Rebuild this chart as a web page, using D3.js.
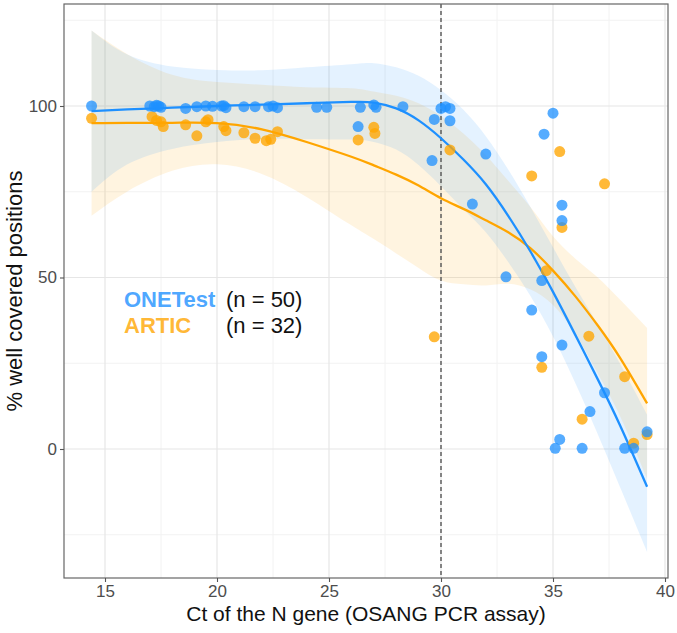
<!DOCTYPE html>
<html>
<head>
<meta charset="utf-8">
<script src="https://cdn.jsdelivr.net/npm/d3@7"></script>
<style>
  html, body { margin: 0; padding: 0; background: #fff; }
  svg { display: block; font-family: "Liberation Sans", Arial, Helvetica, sans-serif; }
</style>
</head>
<body>
<svg id="chart" width="677" height="633"></svg>
<script>
// ---------------- data ----------------
const xTicks = [15, 20, 25, 30, 35, 40];
const xMinor = [17.5, 22.5, 27.5, 32.5, 37.5];
const yTicks = [0, 50, 100];
const yMinor = [-25, 25, 75, 125];
const cutoffCt = 30;

const oneTestCt  = [14.4, 17.0, 17.2, 17.3, 17.4, 17.5, 18.6, 19.1, 19.5, 19.8, 20.2, 20.3, 20.4, 21.2, 21.7, 22.3, 22.5, 22.7, 24.45, 24.9, 26.4, 27.0, 27.1, 28.3, 30.0, 30.2, 30.4, 29.7, 30.4, 26.3, 29.6, 32.0, 35.0, 34.6, 31.4, 35.4, 35.4, 32.9, 34.5, 34.05, 35.4, 34.5, 37.3, 36.65, 39.2, 35.3, 35.1, 36.3, 38.2, 38.6];
const oneTestPct = [100, 100, 99.8, 100.2, 100, 99.6, 99.3, 99.8, 100, 99.9, 100, 100.1, 99.5, 99.8, 99.8, 99.8, 100, 99.5, 99.6, 99.6, 99.6, 100.3, 99.6, 99.8, 99.3, 99.8, 99.3, 96.1, 95.7, 94.0, 84.1, 86.0, 97.9, 91.8, 71.4, 71.1, 66.6, 50.2, 49.1, 40.5, 30.3, 26.9, 16.4, 10.9, 5.0, 2.8, 0.2, 0.2, 0.2, 0.2];

const articCt  = [14.4, 17.1, 17.3, 17.5, 17.6, 18.6, 19.1, 19.5, 19.6, 20.3, 20.4, 21.2, 21.7, 22.2, 22.4, 22.7, 26.3, 27.0, 27.05, 30.4, 29.7, 34.05, 35.3, 37.3, 35.4, 34.7, 34.5, 36.6, 38.2, 36.3, 39.2, 38.6];
const articPct = [96.4, 96.9, 95.8, 95.4, 94.0, 94.5, 91.3, 95.4, 96.0, 94.0, 92.8, 92.2, 90.6, 89.9, 90.3, 92.5, 90.1, 93.8, 92.0, 87.2, 32.7, 79.6, 86.7, 77.3, 64.6, 52.0, 23.8, 32.9, 21.1, 8.7, 4.2, 1.7];

// smoothed fits
const smoothCt   = [14.4, 16, 18, 20, 22, 24, 26, 27, 28, 29, 30, 31, 32, 33, 34, 35, 36, 37, 38, 39.2];
const oneTestFit = [98.5, 99, 99.5, 100, 100.4, 100.8, 101.2, 101.0, 99.3, 95.8, 90.6, 84.4, 77.2, 68.0, 57.5, 45.8, 33.2, 20.3, 6.8, -11];
const oneTestLo  = [75.0, 83, 87.5, 89.5, 90.4, 90.3, 90.2, 89.5, 87.3, 82.8, 76.6, 69.9, 63.2, 54.5, 44.5, 32.8, 19.2, 4.3, -11.2, -30];
const oneTestHi  = [122.0, 115, 111.5, 110.5, 110.4, 111.3, 112.2, 112.5, 111.3, 108.8, 104.6, 98.9, 91.2, 81.5, 70.5, 58.8, 47.2, 36.3, 24.8, 10];
const articFit   = [95.0, 95.1, 95.1, 95.0, 93.2, 89.5, 85.2, 82.7, 80, 76.8, 73.1, 70, 66.7, 63.2, 58.5, 52, 44.5, 36, 26.5, 13.3];
const articLo    = [68, 75.1, 81.1, 83, 80.2, 73.5, 65.2, 61.2, 57, 52.8, 49.1, 48, 47.7, 48.2, 46.5, 42, 33.5, 22, 9.5, -8.7];
const articHi    = [122, 115.1, 109.1, 107, 106.2, 105.5, 105.2, 104.2, 103, 100.8, 97.1, 92, 85.7, 78.2, 70.5, 62, 55.5, 50, 43.5, 35.3];

const legendNames = ["ONETest", "ARTIC"];
const legendCounts = ["(n = 50)", "(n = 32)"];

// ---------------- drawing ----------------
const BLUE = "#1E90FF", ORANGE = "#FFA500";
const svg = d3.select("#chart");
const P = { left: 64, right: 668, top: 4, bottom: 578 };

const x = d3.scaleLinear().domain([15, 40]).range([105, 665]);
const y = d3.scaleLinear().domain([0, 100]).range([449, 106]);

svg.append("defs").append("clipPath").attr("id", "clip")
  .append("rect").attr("x", P.left).attr("y", P.top)
  .attr("width", P.right - P.left).attr("height", P.bottom - P.top);

const grid = svg.append("g");
grid.selectAll(".xm").data(xMinor).join("line")
  .attr("x1", d => x(d)).attr("x2", d => x(d)).attr("y1", P.top).attr("y2", P.bottom)
  .attr("stroke", "#f2f2f2").attr("stroke-width", 1);
grid.selectAll(".ym").data(yMinor).join("line")
  .attr("y1", d => y(d)).attr("y2", d => y(d)).attr("x1", P.left).attr("x2", P.right)
  .attr("stroke", "#f2f2f2").attr("stroke-width", 1);
grid.selectAll(".xM").data(xTicks).join("line")
  .attr("x1", d => x(d)).attr("x2", d => x(d)).attr("y1", P.top).attr("y2", P.bottom)
  .attr("stroke", "#e6e6e6").attr("stroke-width", 1.2);
grid.selectAll(".yM").data(yTicks).join("line")
  .attr("y1", d => y(d)).attr("y2", d => y(d)).attr("x1", P.left).attr("x2", P.right)
  .attr("stroke", "#e6e6e6").attr("stroke-width", 1.2);

const plot = svg.append("g").attr("clip-path", "url(#clip)");

function band(lo, hi) {
  return d3.area().curve(d3.curveNatural)
    .x((d, i) => x(smoothCt[i])).y0((d, i) => y(lo[i])).y1((d, i) => y(hi[i]))(smoothCt);
}
function fitLine(fit) {
  return d3.line().curve(d3.curveNatural)
    .x((d, i) => x(smoothCt[i])).y((d, i) => y(fit[i]))(smoothCt);
}

plot.append("path").attr("d", band(articLo, articHi)).attr("fill", ORANGE).attr("fill-opacity", 0.12);
plot.append("path").attr("d", band(oneTestLo, oneTestHi)).attr("fill", BLUE).attr("fill-opacity", 0.12);

// cutoff line
plot.append("line").attr("x1", x(cutoffCt)).attr("x2", x(cutoffCt))
  .attr("y1", P.top).attr("y2", P.bottom)
  .attr("stroke", "#555").attr("stroke-width", 1.4).attr("stroke-dasharray", "4,3");

plot.append("path").attr("d", fitLine(articFit)).attr("fill", "none")
  .attr("stroke", ORANGE).attr("stroke-width", 2.3);
plot.append("path").attr("d", fitLine(oneTestFit)).attr("fill", "none")
  .attr("stroke", BLUE).attr("stroke-width", 2.3);

plot.selectAll(".pa").data(articCt).join("circle")
  .attr("cx", d => x(d)).attr("cy", (d, i) => y(articPct[i])).attr("r", 5.5)
  .attr("fill", ORANGE).attr("fill-opacity", 0.78);
plot.selectAll(".pb").data(oneTestCt).join("circle")
  .attr("cx", d => x(d)).attr("cy", (d, i) => y(oneTestPct[i])).attr("r", 5.5)
  .attr("fill", BLUE).attr("fill-opacity", 0.75);

// panel border
svg.append("rect").attr("x", P.left).attr("y", P.top)
  .attr("width", P.right - P.left).attr("height", P.bottom - P.top)
  .attr("fill", "none").attr("stroke", "#666").attr("stroke-width", 1.2);

// axes
const xAxis = svg.append("g").attr("transform", `translate(0,${P.bottom})`)
  .call(d3.axisBottom(x).tickValues(xTicks).tickSize(4).tickPadding(3).tickSizeOuter(0));
const yAxis = svg.append("g").attr("transform", `translate(${P.left},0)`)
  .call(d3.axisLeft(y).tickValues(yTicks).tickSize(4).tickPadding(3).tickSizeOuter(0));
[xAxis, yAxis].forEach(a => {
  a.select(".domain").remove();
  a.selectAll(".tick line").attr("stroke", "#555").attr("stroke-width", 1.1);
  a.selectAll(".tick text").attr("fill", "#4d4d4d").style("font-size", "17px")
    .style("font-family", "'Liberation Sans', Arial, sans-serif");
});

svg.append("text").attr("x", (P.left + P.right) / 2).attr("y", 621)
  .attr("text-anchor", "middle").style("font-size", "21px").attr("fill", "#111")
  .text("Ct of the N gene (OSANG PCR assay)");
svg.append("text").attr("transform", `translate(22,${(P.top + P.bottom) / 2}) rotate(-90)`)
  .attr("text-anchor", "middle").style("font-size", "22px").attr("fill", "#111")
  .text("% well covered positions");

// legend text annotations
const legColors = [BLUE, ORANGE];
const legY = [307, 333];
legendNames.forEach((n, i) => {
  svg.append("text").attr("x", 124).attr("y", legY[i])
    .style("font-size", "22px").style("font-weight", "bold")
    .attr("fill", legColors[i]).attr("fill-opacity", 0.8).text(n);
  svg.append("text").attr("x", 226).attr("y", legY[i])
    .style("font-size", "22px").attr("fill", "#111").text(legendCounts[i]);
});
</script>
</body>
</html>
